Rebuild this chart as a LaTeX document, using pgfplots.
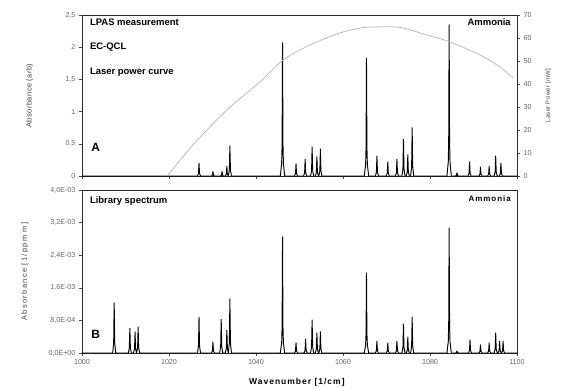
\documentclass[border=0pt]{standalone}
\usepackage{pgfplots}
\pgfplotsset{compat=1.18}
\usepackage{fontspec}
\setmainfont{Liberation Sans}
\newfontfamily\spacedA[LetterSpace=6]{Liberation Sans}
\newfontfamily\spacedB[LetterSpace=18]{Liberation Sans}
\newfontfamily\spacedC[LetterSpace=12]{Liberation Sans}
\begin{document}
\begin{tikzpicture}
\tikzset{lab/.style={font=\fontsize{9.5}{11}\selectfont\bfseries, anchor=west, inner sep=0pt}}
\pgfplotsset{
  common/.style={scale only axis, width=435bp, xmin=1000, xmax=1100,
    xtick={1000,1020,...,1100}, tick align=outside, xtick pos=bottom, ytick pos=left,
    major tick length=3bp, tick style={black!75, line width=0.5pt},
    axis line style={black!85, line width=0.7pt},
    ticklabel style={font=\fontsize{7.2}{8}\selectfont, text=black!60},
    /pgf/number format/assume math mode=true, /pgf/number format/1000 sep={},
    clip=false},
  spec/.style={black, line width=0.95pt, line join=round},
}
% ---------------- top panel ----------------
\begin{axis}[common, height=161bp, ymin=0, ymax=2.5, ytick={0,0.5,...,2.5},
  yticklabels={0,{0,5},1,{1,5},2,{2,5}},
  xticklabels={},
  ylabel={Absorbance (arb)},
  ylabel style={at={(axis description cs:-0.12,0.5)}, anchor=center, font=\fontsize{7.5}{8}\spacedA, text=black!75}]
\addplot[spec] coordinates {
(1000,0)
(1026.55,0)(1026.78,0.04)(1026.9,0.20)(1027.02,0.04)(1027.25,0)
(1029.75,0)(1029.98,0.014)(1030.1,0.07)(1030.22,0.014)(1030.45,0)
(1031.85,0)(1032.08,0.014)(1032.2,0.07)(1032.32,0.014)(1032.55,0)
(1032.95,0)(1033.18,0.03)(1033.3,0.15)(1033.42,0.03)(1033.65,0)
(1033.88,0.094)(1034.0,0.47)(1034.12,0.094)(1034.35,0)
(1045.6,0)(1045.9,0.2)(1046.0,0.5)(1046.1,2.07)(1046.2,0.5)(1046.3,0.2)(1046.6,0)
(1048.85,0)(1049.08,0.038)(1049.2,0.19)(1049.32,0.038)(1049.55,0)
(1050.95,0)(1051.18,0.052)(1051.3,0.26)(1051.42,0.052)(1051.65,0)
(1052.55,0)(1052.78,0.09)(1052.9,0.45)(1053.02,0.09)(1053.25,0)
(1053.65,0)(1053.88,0.06)(1054.0,0.30)(1054.12,0.06)(1054.35,0)
(1054.45,0)(1054.68,0.084)(1054.8,0.42)(1054.92,0.084)(1055.15,0)
(1064.9,0)(1065.2,0.18)(1065.3,0.45)(1065.4,1.83)(1065.5,0.45)(1065.6,0.18)(1065.9,0)
(1067.45,0)(1067.68,0.062)(1067.8,0.31)(1067.92,0.062)(1068.15,0)
(1069.95,0)(1070.18,0.044)(1070.3,0.22)(1070.42,0.044)(1070.65,0)
(1072.05,0)(1072.28,0.052)(1072.4,0.26)(1072.52,0.052)(1072.75,0)
(1073.55,0)(1073.78,0.114)(1073.9,0.57)(1074.02,0.114)(1074.25,0)
(1074.55,0)(1074.78,0.066)(1074.9,0.33)(1075.02,0.066)(1075.25,0)
(1075.55,0)(1075.78,0.15)(1075.9,0.75)(1076.02,0.15)(1076.25,0)
(1083.9,0)(1084.2,0.22)(1084.3,0.55)(1084.4,2.35)(1084.5,0.55)(1084.6,0.22)(1084.9,0)
(1085.85,0)(1086.08,0.01)(1086.2,0.05)(1086.32,0.01)(1086.55,0)
(1088.75,0)(1088.98,0.044)(1089.1,0.22)(1089.22,0.044)(1089.45,0)
(1091.25,0)(1091.48,0.028)(1091.6,0.14)(1091.72,0.028)(1091.95,0)
(1093.25,0)(1093.48,0.03)(1093.6,0.15)(1093.72,0.03)(1093.95,0)
(1094.75,0)(1094.98,0.062)(1095.1,0.31)(1095.22,0.062)(1095.45,0)
(1095.95,0)(1096.18,0.04)(1096.3,0.20)(1096.42,0.04)(1096.65,0)
(1100,0)
};
\node[lab] at (rel axis cs:0.018,0.957) {LPAS measurement};
\node[lab] at (rel axis cs:0.018,0.80) {EC-QCL};
\node[lab] at (rel axis cs:0.018,0.646) {Laser power curve};
\node[lab, font=\fontsize{12}{13}\selectfont\bfseries] at (rel axis cs:0.021,0.18) {A};
\node[lab, anchor=east] at (rel axis cs:0.986,0.957) {Ammonia};
\end{axis}
\begin{axis}[common, height=161bp, ymin=0, ymax=70, ytick={0,10,...,70},
  axis x line=none, axis y line*=right, ytick pos=right,
  ylabel={Laser Power [mW]},
  ylabel style={at={(axis description cs:1.072,0.5)}, anchor=center, font=\fontsize{6}{7}\spacedA, text=black!75}]
\addplot[gray!55, line width=0.8pt, smooth] coordinates {
(1019.6,0)(1025.5,13.5)(1033.3,28.7)(1040.9,40.9)(1046.2,50.4)(1052.4,57)
(1059.3,62.2)(1063.9,64.3)(1066.9,64.8)(1073.1,64.6)(1079.3,61.3)(1084.6,58.3)
(1091.5,52.6)(1096.1,47.4)(1099.1,42.6)
};
\end{axis}
% ---------------- bottom panel ----------------
\begin{axis}[common, at={(0,-177bp)}, height=163bp, ymin=0, ymax=4,
  ytick={0,0.8,1.6,2.4,3.2,4.0},
  yticklabels={{0,0E+00},{8,0E-04},{1,6E-03},{2,4E-03},{3,2E-03},{4,0E-03}},
  ylabel={Absorbance [1/ppm m]},
  ylabel style={at={(axis description cs:-0.131,0.5)}, anchor=center, font=\fontsize{7.5}{8}\spacedB, text=black!75},
  xlabel={Wavenumber [1/cm]},
  xlabel style={at={(axis description cs:0.494,-0.178)}, anchor=center, font=\fontsize{8.5}{9}\spacedC\bfseries}]
\addplot[spec] coordinates {
(1000,0)
(1007.05,0)(1007.28,0.246)(1007.4,1.23)(1007.52,0.246)(1007.75,0)
(1010.65,0)(1010.88,0.122)(1011.0,0.61)(1011.12,0.122)(1011.35,0)
(1011.85,0)(1012.08,0.104)(1012.2,0.52)(1012.32,0.104)(1012.55,0)
(1012.78,0.128)(1012.9,0.64)(1013.02,0.128)(1013.25,0)
(1026.55,0)(1026.78,0.176)(1026.9,0.88)(1027.02,0.176)(1027.25,0)
(1029.75,0)(1029.98,0.054)(1030.1,0.27)(1030.22,0.054)(1030.45,0)
(1031.65,0)(1031.88,0.166)(1032.0,0.83)(1032.12,0.166)(1032.35,0)
(1032.95,0)(1033.18,0.112)(1033.3,0.56)(1033.42,0.112)(1033.65,0)
(1033.88,0.266)(1034.0,1.33)(1034.12,0.266)(1034.35,0)
(1045.6,0)(1045.9,0.25)(1046.0,0.65)(1046.1,2.85)(1046.2,0.65)(1046.3,0.25)(1046.6,0)
(1048.85,0)(1049.08,0.05)(1049.2,0.25)(1049.32,0.05)(1049.55,0)
(1051.05,0)(1051.28,0.068)(1051.4,0.34)(1051.52,0.068)(1051.75,0)
(1052.55,0)(1052.78,0.162)(1052.9,0.81)(1053.02,0.162)(1053.25,0)
(1053.65,0)(1053.88,0.098)(1054.0,0.49)(1054.12,0.098)(1054.35,0)
(1054.45,0)(1054.68,0.104)(1054.8,0.52)(1054.92,0.104)(1055.15,0)
(1064.9,0)(1065.2,0.2)(1065.3,0.48)(1065.4,1.96)(1065.5,0.48)(1065.6,0.2)(1065.9,0)
(1067.45,0)(1067.68,0.058)(1067.8,0.29)(1067.92,0.058)(1068.15,0)
(1069.95,0)(1070.18,0.05)(1070.3,0.25)(1070.42,0.05)(1070.65,0)
(1072.05,0)(1072.28,0.058)(1072.4,0.29)(1072.52,0.058)(1072.75,0)
(1073.55,0)(1073.78,0.142)(1073.9,0.71)(1074.02,0.142)(1074.25,0)
(1074.55,0)(1074.78,0.078)(1074.9,0.39)(1075.02,0.078)(1075.25,0)
(1075.55,0)(1075.78,0.176)(1075.9,0.88)(1076.02,0.176)(1076.25,0)
(1083.9,0)(1084.2,0.28)(1084.3,0.7)(1084.4,3.07)(1084.5,0.7)(1084.6,0.28)(1084.9,0)
(1085.85,0)(1086.08,0.01)(1086.2,0.05)(1086.32,0.01)(1086.55,0)
(1088.85,0)(1089.08,0.064)(1089.2,0.32)(1089.32,0.064)(1089.55,0)
(1091.25,0)(1091.48,0.04)(1091.6,0.20)(1091.72,0.04)(1091.95,0)
(1093.25,0)(1093.48,0.05)(1093.6,0.25)(1093.72,0.05)(1093.95,0)
(1094.75,0)(1094.98,0.098)(1095.1,0.49)(1095.22,0.098)(1095.45,0)
(1095.65,0)(1095.88,0.058)(1096.0,0.29)(1096.12,0.058)(1096.35,0)
(1096.45,0)(1096.68,0.058)(1096.8,0.29)(1096.92,0.058)(1097.15,0)
(1100,0)
};
\node[lab] at (rel axis cs:0.018,0.933) {Library spectrum};
\node[lab, font=\fontsize{12}{13}\selectfont\bfseries] at (rel axis cs:0.021,0.117) {B};
\node[lab, anchor=east, font=\fontsize{8}{9}\spacedC\bfseries] at (rel axis cs:0.986,0.95) {Ammonia};
\end{axis}
\pgfresetboundingbox
\path[use as bounding box] (-82bp,-212bp) rectangle (481bp,176bp);
\end{tikzpicture}
\end{document}
